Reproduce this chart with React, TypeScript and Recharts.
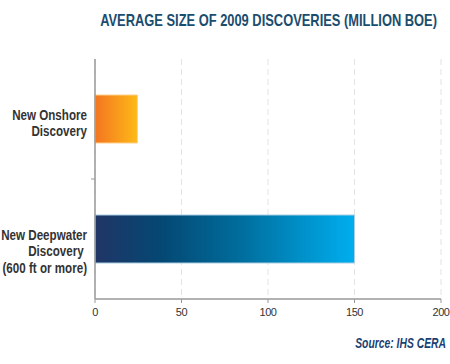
import React from 'react';
import { BarChart, Bar, XAxis, YAxis, CartesianGrid, Cell } from 'recharts';

const categories = ['New Onshore|Discovery', 'New Deepwater|Discovery |(600 ft or more)'];
const values = [24.5, 150];
const xTicks = [0, 50, 100, 150, 200];
const title = 'AVERAGE SIZE OF 2009 DISCOVERIES (MILLION BOE)';
const source = 'Source: IHS CERA';

const data = categories.map((c, i) => ({ name: c, value: values[i] }));

const SANS = '"Liberation Sans", Arial, sans-serif';

const YTick = (props: any) => {
  const { x, y, payload, index } = props;
  const lines: string[] = String(payload.value).split('|');
  const half = payload.offset ?? 60;
  return (
    <g>
      <g transform={`translate(${x},${y + 1}) scale(0.83,1)`}>
        <text
          x={0}
          y={0}
          textAnchor="end"
          fill="#333"
          fontFamily={SANS}
          fontWeight="bold"
          fontSize={14}
          style={{ whiteSpace: 'pre' }}
        >
          {lines.map((l, i) => (
            <tspan key={i} x={0} dy={i === 0 ? 0 : 16.5}>
              {l}
            </tspan>
          ))}
        </text>
      </g>
      {index === 0 && (
        <line x1={x + 4} x2={x + 8} y1={y + half} y2={y + half} stroke="#999" strokeWidth={1} />
      )}
    </g>
  );
};

export default function App() {
  return (
    <div style={{ position: 'absolute', left: 0, top: 0, width: 450, height: 364, background: '#fff' }}>
      <BarChart
        width={450}
        height={364}
        layout="vertical"
        data={data}
        margin={{ top: 59, right: 9, bottom: 35, left: 0 }}
        barSize={48}
      >
        <defs>
          <linearGradient id="gOn" x1="0" y1="0" x2="1" y2="0">
            <stop offset="0%" stopColor="#f47521" />
            <stop offset="100%" stopColor="#fdba17" />
          </linearGradient>
          <linearGradient id="gDeep" x1="0" y1="0" x2="1" y2="0">
            <stop offset="0%" stopColor="#203566" />
            <stop offset="25%" stopColor="#054773" />
            <stop offset="55%" stopColor="#006c9b" />
            <stop offset="100%" stopColor="#00aeef" />
          </linearGradient>
        </defs>
        <CartesianGrid horizontal={false} stroke="#e3e3e3" strokeDasharray="6 4" />
        <XAxis
          type="number"
          domain={[0, 200]}
          ticks={xTicks}
          height={30}
          axisLine={{ stroke: '#999', strokeWidth: 1.5 }}
          tickLine={{ stroke: '#999' }}
          tickSize={4}
          tickMargin={5}
          tick={{ fill: '#333', fontSize: 11, fontFamily: SANS, letterSpacing: -0.4 }}
          interval={0}
        />
        <YAxis
          type="category"
          dataKey="name"
          width={95}
          axisLine={{ stroke: '#999', strokeWidth: 1.5 }}
          tickLine={false}
          tick={<YTick />}
          interval={0}
        />
        <Bar dataKey="value" isAnimationActive={false}>
          <Cell fill="url(#gOn)" stroke="#fcd08a" strokeWidth={1} />
          <Cell fill="url(#gDeep)" stroke="#a9cde2" strokeWidth={1} />
        </Bar>
      </BarChart>
      <svg width={450} height={364} style={{ position: 'absolute', left: 0, top: 0, pointerEvents: 'none' }}>
        <g transform="translate(437,26) scale(0.781,1)">
          <text x={0} y={0} textAnchor="end" fontFamily={SANS} fontWeight="bold" fontSize={16.5} fill="#1b4d6e">
            {title}
          </text>
        </g>
        <g transform="translate(446,348) scale(0.74,1)">
          <text
            x={0}
            y={0}
            textAnchor="end"
            fontFamily={SANS}
            fontWeight="bold"
            fontStyle="italic"
            fontSize={14}
            fill="#1b3f73"
          >
            {source}
          </text>
        </g>
      </svg>
    </div>
  );
}
